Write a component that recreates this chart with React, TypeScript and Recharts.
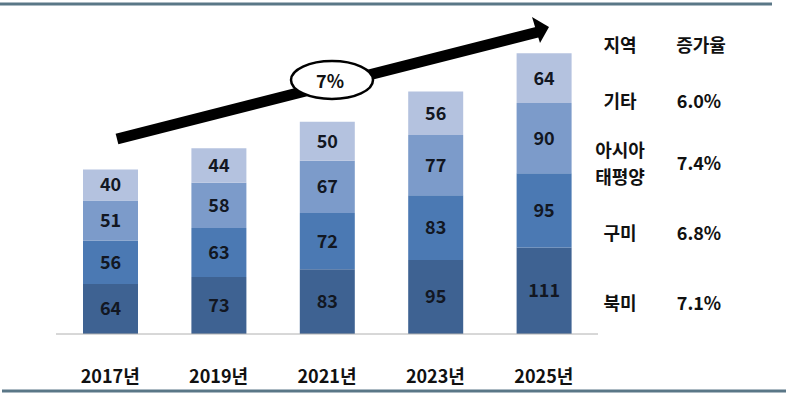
import React from "react";
import { BarChart, Bar, XAxis, YAxis, LabelList } from "recharts";

const years = ["2017년", "2019년", "2021년", "2023년", "2025년"];
const northAmerica = [64, 73, 83, 95, 111];
const europe = [56, 63, 72, 83, 95];
const asiaPacific = [51, 58, 67, 77, 90];
const others = [40, 44, 50, 56, 64];

const regionRows = [
  { name: ["기타"], rate: "6.0%", y: 100 },
  { name: ["아시아", "태평양"], rate: "7.4%", y: 162 },
  { name: ["구미"], rate: "6.8%", y: 232 },
  { name: ["북미"], rate: "7.1%", y: 302 },
];
const cagr = "7%";

const data = years.map((year, i) => ({
  year,
  na: northAmerica[i],
  eu: europe[i],
  ap: asiaPacific[i],
  etc: others[i],
}));

const FONT = "'Noto Sans CJK KR', 'Noto Sans', sans-serif";
const labelStyle = { fill: "#121722", fontSize: 18, fontWeight: 700, fontFamily: FONT };

const YearTick = (props: any) => {
  const { x, y, payload } = props;
  return (
    <text
      x={x}
      y={y + 41}
      textAnchor="middle"
      fill="#111"
      fontSize={18}
      fontWeight={700}
      fontFamily={FONT}
    >
      {payload.value}
    </text>
  );
};

export default function App() {
  return (
    <div
      style={{
        position: "absolute",
        left: 0,
        top: 0,
        width: 786,
        height: 396,
        background: "#fff",
      }}
    >
      <BarChart
        width={786}
        height={396}
        data={data}
        margin={{ top: 22, right: 188, left: 56, bottom: 22 }}
      >
        <XAxis
          dataKey="year"
          height={40}
          tickLine={false}
          axisLine={{ stroke: "#b0b0b0", strokeWidth: 1 }}
          tick={<YearTick />}
          interval={0}
        />
        <YAxis hide domain={[0, 400]} />
        <Bar dataKey="na" stackId="a" fill="#3e6292" barSize={55} isAnimationActive={false}>
          <LabelList dataKey="na" position="center" style={labelStyle} />
        </Bar>
        <Bar dataKey="eu" stackId="a" fill="#4b79b3" barSize={55} isAnimationActive={false}>
          <LabelList dataKey="eu" position="center" style={labelStyle} />
        </Bar>
        <Bar dataKey="ap" stackId="a" fill="#7c9bca" barSize={55} isAnimationActive={false}>
          <LabelList dataKey="ap" position="center" style={labelStyle} />
        </Bar>
        <Bar dataKey="etc" stackId="a" fill="#b4c2df" barSize={55} isAnimationActive={false}>
          <LabelList dataKey="etc" position="center" style={labelStyle} />
        </Bar>
      </BarChart>
      <svg
        width={786}
        height={396}
        style={{ position: "absolute", left: 0, top: 0, pointerEvents: "none" }}
      >
        {/* frame lines */}
        <line x1={0} y1={4} x2={772} y2={4} stroke="#5a7787" strokeWidth={3} />
        <line x1={2} y1={391} x2={786} y2={391} stroke="#5a7787" strokeWidth={3} />
        {/* growth arrow */}
        <line x1={117} y1={139} x2={538} y2={32} stroke="#000" strokeWidth={11} />
        <polygon points="549,27 532,17 540,43" fill="#000" />
        <ellipse cx={332} cy={80} rx={41} ry={19} fill="#fff" stroke="#000" strokeWidth={2.5} />
        <text
          x={330}
          y={80}
          textAnchor="middle"
          dominantBaseline="central"
          fontSize={18}
          fontWeight={700}
          fontFamily={FONT}
          fill="#111"
        >
          {cagr}
        </text>
        {/* region table */}
        <g fontFamily={FONT} fontSize={18} fontWeight={700} fill="#111" textAnchor="middle">
          <text x={620} y={44} dominantBaseline="central">지역</text>
          <text x={701} y={44} dominantBaseline="central">증가율</text>
          {regionRows.map((r) => (
            <g key={r.rate}>
              {r.name.map((n, j) => (
                <text
                  key={n}
                  x={620}
                  y={r.y + (j - (r.name.length - 1) / 2) * 27}
                  dominantBaseline="central"
                >
                  {n}
                </text>
              ))}
              <text x={699} y={r.y} dominantBaseline="central">
                {r.rate}
              </text>
            </g>
          ))}
        </g>
      </svg>
    </div>
  );
}
